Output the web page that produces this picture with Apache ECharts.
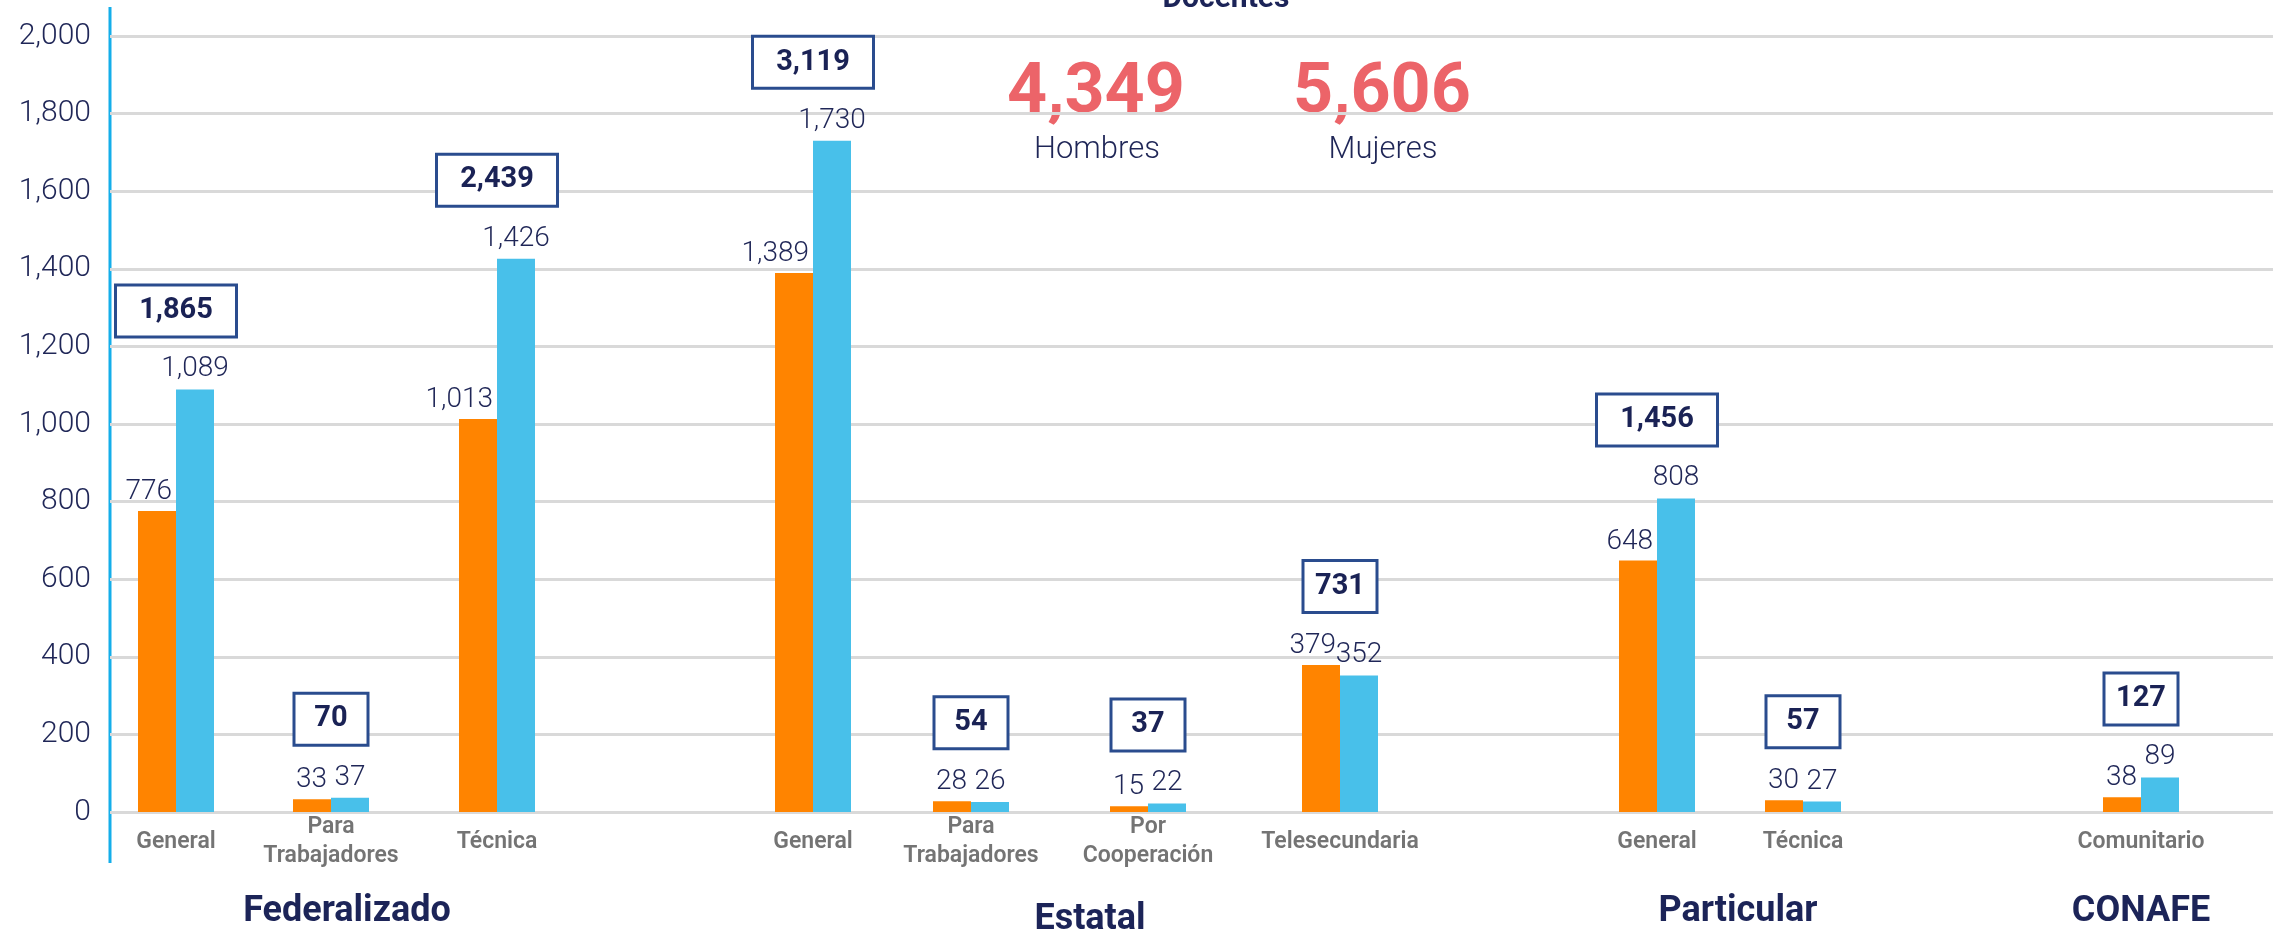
<!DOCTYPE html>
<html>
<head>
<meta charset="utf-8">
<title>Docentes</title>
<script src="https://cdn.jsdelivr.net/npm/echarts@6/dist/echarts.min.js"></script>
<style>
  html, body { margin: 0; padding: 0; background: #fff; }
  #myChart { width: 2282px; height: 933px; }
</style>
</head>
<body>
<div id="myChart"></div>
<script>
// datos
const categories = ['General', 'Para\nTrabajadores', 'Técnica', 'General', 'Para\nTrabajadores', 'Por\nCooperación', 'Telesecundaria', 'General', 'Técnica', 'Comunitario']
const hombres = [776, 33, 1013, 1389, 28, 15, 379, 648, 30, 38]
const mujeres = [1089, 37, 1426, 1730, 26, 22, 352, 808, 27, 89]
const totales = [1865, 70, 2439, 3119, 54, 37, 731, 1456, 57, 127]
// posición de cada categoría sobre el eje (unidades del eje x)
const catPos = [6.6, 22.1, 38.7, 70.3, 86.1, 103.8, 123.0, 154.7, 169.3, 203.1]
const grupos = ['Federalizado', 'Estatal', 'Particular', 'CONAFE']
const grupoPos = [23.7, 98.0, 162.8, 203.1]
const yTicks = [0, 200, 400, 600, 800, 1000, 1200, 1400, 1600, 1800, 2000]
const totalHombres = 4349
const totalMujeres = 5606

const navy = '#1f2657'
const fmt = (v) => v.toLocaleString('en-US')
const font = 'Roboto, "Noto Sans", sans-serif'

let myChart = echarts.init(document.getElementById('myChart'))

let pairs = (arr) => arr.map((v, i) => [catPos[i], v])

let option = {
  animation: false,
  textStyle: { fontFamily: font },
  grid: { left: 110, right: 9, top: 36, bottom: 121, containLabel: false },
  xAxis: {
    type: 'value',
    min: 0,
    max: 216.3,
    show: false
  },
  yAxis: {
    type: 'value',
    min: yTicks[0],
    max: yTicks[yTicks.length - 1],
    interval: 200,
    axisLine: { show: false },
    axisTick: { show: false },
    axisLabel: {
      margin: 19,
      color: navy,
      fontSize: 30,
      fontWeight: 300,
      fontFamily: font,
      formatter: (v) => fmt(v)
    },
    splitLine: { lineStyle: { color: '#d9d9d9', width: 3 } }
  },
  series: [
    {
      name: 'Hombres',
      type: 'bar',
      barWidth: 38,
      barGap: '0%',
      itemStyle: { color: '#ff8400' },
      data: pairs(hombres),
      label: {
        show: true,
        position: 'top',
        distance: 5,
        align: 'right',
        offset: [15, 0],
        color: navy,
        fontSize: 28,
        fontWeight: 300,
        formatter: (p) => fmt(p.value[1])
      }
    },
    {
      name: 'Mujeres',
      type: 'bar',
      barWidth: 38,
      barGap: '0%',
      itemStyle: { color: '#48c0ea' },
      data: pairs(mujeres),
      label: {
        show: true,
        position: 'top',
        distance: 6,
        color: navy,
        fontSize: 28,
        fontWeight: 300,
        formatter: (p) => fmt(p.value[1])
      }
    },
    {
      // recuadros con el total de cada modalidad
      name: 'Total',
      type: 'scatter',
      symbolSize: 0,
      silent: true,
      z: 5,
      itemStyle: { opacity: 1 },
      data: totales.map((t, i) => ({
        value: [catPos[i], Math.max(hombres[i], mujeres[i])],
        label: { width: t >= 1000 ? 118 : 71 }
      })),
      label: {
        show: true,
        opacity: 1,
        position: 'top',
        distance: 54,
        formatter: (p) => fmt(totales[p.dataIndex]),
        color: '#1a2255',
        fontSize: 29,
        fontWeight: 'bold',
        align: 'center',
        height: 49,
        lineHeight: 49,
        padding: 0,
        backgroundColor: '#fff',
        borderColor: '#2a4c8e',
        borderWidth: 3
      }
    },
    {
      // nombres de las modalidades
      name: 'Categorias',
      type: 'scatter',
      symbolSize: 0,
      silent: true,
      itemStyle: { opacity: 1 },
      data: pairs(catPos.map(() => 0)),
      label: {
        show: true,
        opacity: 1,
        position: 'inside',
        offset: [0, 30],
        verticalAlign: 'middle',
        formatter: (p) => categories[p.dataIndex],
        color: '#747474',
        fontSize: 23,
        fontWeight: 600,
        lineHeight: 29
      }
    },
    {
      // nombres de los sostenimientos
      name: 'Grupos',
      type: 'scatter',
      symbolSize: 0,
      silent: true,
      itemStyle: { opacity: 1 },
      data: grupos.map((g, i) => ({
        value: [grupoPos[i], 0],
        label: { offset: [0, g === 'Estatal' ? 108 : 100] }
      })),
      label: {
        show: true,
        opacity: 1,
        position: 'inside',
        verticalAlign: 'middle',
        formatter: (p) => grupos[p.dataIndex],
        color: '#1c2458',
        fontSize: 36,
        fontWeight: 'bold'
      }
    }
  ],
  graphic: [
    {
      type: 'rect',
      shape: { x: 108.5, y: 7, width: 3, height: 856 },
      style: { fill: '#14aeea' }
    },
    {
      type: 'text',
      x: 1226,
      y: 14,
      style: { text: 'Docentes', font: 'bold 30px ' + font, fill: '#1c2458', align: 'center', verticalAlign: 'bottom' }
    },
    {
      type: 'text',
      x: 1096,
      y: 94,
      style: { text: fmt(totalHombres), font: 'bold 70px ' + font, fill: '#ec6469', align: 'center', verticalAlign: 'middle' }
    },
    {
      type: 'text',
      x: 1382,
      y: 94,
      style: { text: fmt(totalMujeres), font: 'bold 70px ' + font, fill: '#ec6469', align: 'center', verticalAlign: 'middle' }
    },
    {
      type: 'text',
      x: 1097,
      y: 150,
      style: { text: 'Hombres', font: '300 31px ' + font, fill: navy, align: 'center', verticalAlign: 'middle' }
    },
    {
      type: 'text',
      x: 1383,
      y: 150,
      style: { text: 'Mujeres', font: '300 31px ' + font, fill: navy, align: 'center', verticalAlign: 'middle' }
    }
  ]
}

myChart.setOption(option)
</script>
</body>
</html>
